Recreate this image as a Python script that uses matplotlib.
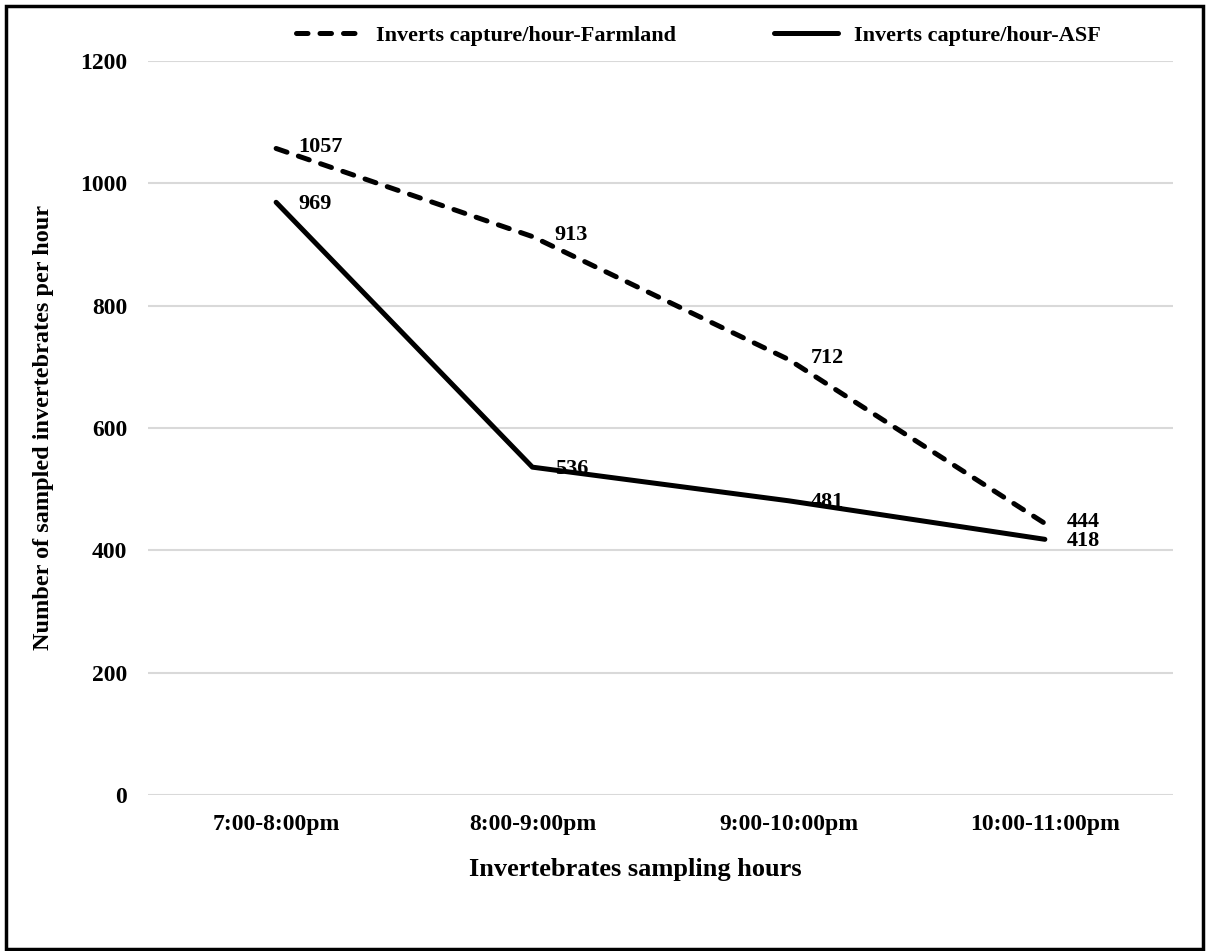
import matplotlib.pyplot as plt
from matplotlib.patches import Rectangle

hours = ['7:00-8:00pm', '8:00-9:00pm', '9:00-10:00pm', '10:00-11:00pm']
farmland = [1057, 913, 712, 444]
asf = [969, 536, 481, 418]

plt.rcParams['font.family'] = 'Liberation Serif'
plt.rcParams['font.weight'] = 'bold'

fig = plt.figure(figsize=(12.1, 9.51), dpi=100)
ax = fig.add_axes([148/1210, 1 - 795/951, (1173-148)/1210, (795-61)/951])

x = list(range(len(hours)))
ax.plot(x, farmland, color='black', lw=3.6, linestyle=(0, (2.3, 2.4)),
        dash_capstyle='round', label='Inverts capture/hour-Farmland', zorder=3)
ax.plot(x, asf, color='black', lw=3.6, solid_capstyle='round',
        label='Inverts capture/hour-ASF', zorder=3)

for xi, v in zip(x, farmland):
    ax.annotate(str(v), (xi, v), xytext=(16, 1), textcoords='offset points',
                ha='left', va='center', fontsize=16, fontweight='bold', zorder=2)
for xi, v in zip(x, asf):
    ax.annotate(str(v), (xi, v), xytext=(16, -1), textcoords='offset points',
                ha='left', va='center', fontsize=16, fontweight='bold', zorder=2)

ax.set_xlim(-0.5, len(hours) - 0.5)
ax.set_ylim(0, 1200)
ax.set_yticks(range(0, 1201, 200))
ax.set_xticks(x)
ax.set_xticklabels(hours)
ax.tick_params(axis='both', length=0, labelsize=17)
ax.tick_params(axis='y', pad=15)
ax.tick_params(axis='x', pad=14)
ax.grid(axis='y', color='#d9d9d9', lw=1.5)
ax.set_axisbelow(True)
for s in ax.spines.values():
    s.set_visible(False)

ax.set_xlabel('Invertebrates sampling hours', fontsize=19, fontweight='bold')
ax.xaxis.set_label_coords(0.475, -0.086)
ax.set_ylabel('Number of sampled invertebrates per hour', fontsize=17.5, fontweight='bold', labelpad=19)

ax.legend(loc='center', bbox_to_anchor=(0.537, 1.035), ncol=2, frameon=False,
          fontsize=16, handlelength=2.9, columnspacing=4.4, handletextpad=0.7)

fig.patches.append(Rectangle((6/1210, 2/951), 1197/1210, 943/951, transform=fig.transFigure,
                             fill=False, edgecolor='black', lw=2.5))

fig.savefig('out.png', dpi=100)
